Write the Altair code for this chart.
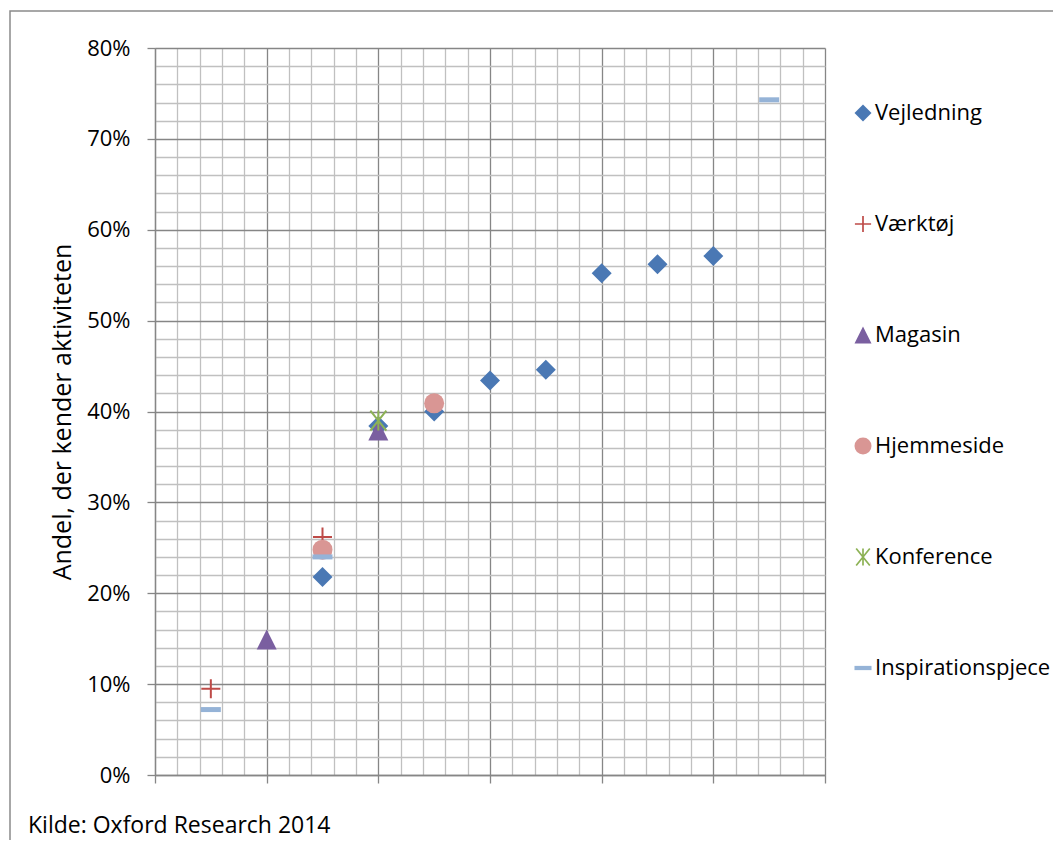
import altair as alt
import pandas as pd

# ---- data ----
series_names = ["Vejledning", "Værktøj", "Magasin", "Hjemmeside", "Konference", "Inspirationspjece"]

vejledning_x = [1.5, 2, 2.5, 3, 3.5, 4, 4.5, 5]
vejledning_y = [21.8, 38.4, 40.0, 43.4, 44.6, 55.2, 56.2, 57.1]
vaerktoej_x = [0.5, 1.5]
vaerktoej_y = [9.5, 26.2]
magasin_x = [1, 2]
magasin_y = [14.9, 37.9]
hjemmeside_x = [1.5, 2.5]
hjemmeside_y = [24.8, 40.9]
konference_x = [2]
konference_y = [39.0]
inspiration_x = [0.5, 1.5, 5.5]
inspiration_y = [7.2, 24.0, 74.3]

y_title = "Andel, der kender aktiviteten"
footnote = "Kilde: Oxford Research 2014"

# ---- styles ----
colors = ["#4A78B4", "#BE4B48", "#7A5FA0", "#D99694", "#8DB255", "#95B3D7"]
plus_path = "M-0.95,0.1L0.95,0.1L0.95,-0.1L-0.95,-0.1Z M-0.1,-0.95L-0.1,0.95L0.1,0.95L0.1,-0.95Z"
aster_path = ("M-0.1,-1L-0.1,1L0.1,1L0.1,-1Z "
              "M-0.878,-0.9375L0.722,1.0625L0.878,0.9375L-0.722,-1.0625Z "
              "M0.722,-1.0625L-0.878,0.9375L-0.722,1.0625L0.878,-0.9375Z")
tri_path = "M0,-1L1,1L-1,1Z"
dash_path = "M-1,-0.25L1,-0.25L1,0.25L-1,0.25Z"
shapes = ["diamond", plus_path, tri_path, "circle", aster_path, dash_path]

FONT = "Open Sans"
FS = 22
MAJOR = "#868686"
MINOR = "#c0c0c0"

rows = []
for name, xs, ys in [
    ("Vejledning", vejledning_x, vejledning_y),
    ("Værktøj", vaerktoej_x, vaerktoej_y),
    ("Magasin", magasin_x, magasin_y),
    ("Hjemmeside", hjemmeside_x, hjemmeside_y),
    ("Konference", konference_x, konference_y),
    ("Inspirationspjece", inspiration_x, inspiration_y),
]:
    for x, y in zip(xs, ys):
        rows.append({"series": name, "x": x, "y": y})
df = pd.DataFrame(rows)

x_grid = [round(i * 0.2, 1) for i in range(31)]
y_grid = list(range(0, 81, 2))

x_major = "abs(datum.value - round(datum.value)) < 0.01"
y_major = "datum.value % 10 === 0"

legend = alt.Legend(
    title=None, orient="none", legendX=697, legendY=54, direction="vertical",
    rowPadding=89, labelFont=FONT, labelFontSize=FS, labelColor="black",
    symbolSize=290, symbolStrokeWidth=0, labelOffset=1, labelLimit=400,
)

points = alt.Chart(df).mark_point(filled=True, opacity=1, size=400).encode(
    x=alt.X("x:Q", scale=alt.Scale(domain=[0, 6], nice=False, zero=True),
            axis=alt.Axis(values=x_grid, labels=False, title=None, tickSize=8,
                          gridColor={"condition": {"test": x_major, "value": MAJOR}, "value": MINOR},
                          tickColor={"condition": {"test": x_major, "value": MAJOR}, "value": "transparent"})),
    y=alt.Y("y:Q", scale=alt.Scale(domain=[0, 80], nice=False),
            axis=alt.Axis(values=y_grid, title=y_title, tickSize=8, labelPadding=17,
                          labelOverlap=False, labelFlush=False,
                          labelExpr="datum.value % 10 === 0 ? datum.value + '%' : ''",
                          titleX=-93, titleBaseline="middle", titleFontSize=25,
                          gridColor={"condition": {"test": y_major, "value": MAJOR}, "value": MINOR},
                          tickColor={"condition": {"test": y_major, "value": MAJOR}, "value": "transparent"})),
    color=alt.Color("series:N", scale=alt.Scale(domain=series_names, range=colors), legend=legend),
    shape=alt.Shape("series:N", scale=alt.Scale(domain=series_names, range=shapes), legend=legend),
)

border = alt.Chart(pd.DataFrame({"a": [0]})).mark_rect(
    fill="transparent", stroke="#8a8a8a", strokeWidth=1.5
).encode(x=alt.value(-145), y=alt.value(-37), x2=alt.value(1000), y2=alt.value(900))

note = alt.Chart(pd.DataFrame({"t": [footnote]})).mark_text(
    align="left", baseline="bottom", font=FONT, fontSize=23, color="black"
).encode(text="t:N", x=alt.value(-127), y=alt.value(790))

chart = alt.layer(border, points, note).properties(
    width=670, height=727,
    autosize=alt.AutoSizeParams(type="none"),
    padding={"left": 147, "top": 40, "right": 228, "bottom": 65},
).configure_view(strokeWidth=0).configure_axis(
    labelFont=FONT, labelFontSize=FS, labelColor="black",
    titleFont=FONT, titleFontSize=FS, titleColor="black", titleFontWeight="normal",
    domainColor=MAJOR, domainWidth=1.3, gridWidth=1.3, tickWidth=1.3,
    gridOpacity=1,
)

chart.save("out.html", embed_options={"renderer": "svg", "actions": False})
